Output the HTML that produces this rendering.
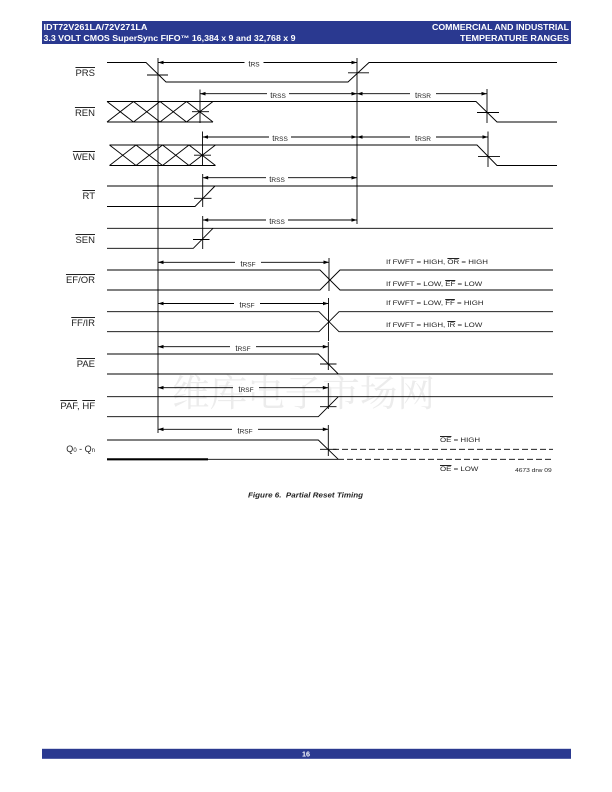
<!DOCTYPE html>
<html><head><meta charset="utf-8"><style>
html,body{margin:0;padding:0;background:#fff;}
body{width:612px;height:792px;position:relative;overflow:hidden;font-family:"Liberation Sans",Arial,sans-serif;}
.lb{position:absolute;right:517px;font-size:9.5px;line-height:1;white-space:nowrap;color:#222;}
.ov{text-decoration:overline;}
.rt{position:absolute;font-size:6.8px;line-height:1;white-space:nowrap;color:#222;transform:scaleX(1.16);transform-origin:0 0;}
svg{position:absolute;left:0;top:0;}
</style></head><body>
<svg width="612" height="792" viewBox="0 0 612 792" xmlns="http://www.w3.org/2000/svg" font-family="Liberation Sans, Arial, sans-serif">
<!-- header -->
<rect x="42" y="21" width="529" height="23" fill="#2a3990"/>
<g fill="#fff" font-weight="bold" font-size="8">
<text x="43.5" y="30.2" textLength="104" lengthAdjust="spacingAndGlyphs">IDT72V261LA/72V271LA</text>
<text x="43.5" y="41" textLength="252" lengthAdjust="spacingAndGlyphs">3.3 VOLT CMOS SuperSync FIFO™ 16,384 x 9 and 32,768 x 9</text>
<text x="569" y="30.2" text-anchor="end" textLength="137" lengthAdjust="spacingAndGlyphs">COMMERCIAL AND INDUSTRIAL</text>
<text x="569" y="41" text-anchor="end" textLength="109" lengthAdjust="spacingAndGlyphs">TEMPERATURE RANGES</text>
</g>
<!-- watermark -->
<text x="172" y="406" font-size="37" fill="#ececec" font-family="Noto Serif CJK SC, serif" textLength="263" lengthAdjust="spacingAndGlyphs">维库电子市场网</text>

<g stroke="#000" stroke-width="0.9" fill="none">
<line x1="158" y1="58" x2="158" y2="433"/>
<line x1="357" y1="58" x2="357" y2="224"/>

<polyline points="107,62.5 146,62.5 166,82 348,82 369,62.5 557,62.5"/>
<line x1="147" y1="75" x2="168" y2="75"/>
<line x1="348" y1="72.8" x2="369" y2="72.8"/>

<polyline points="107,101.5 476,101.5 497,122 557,122"/>
<line x1="107" y1="122" x2="213" y2="122"/>
<line x1="107" y1="101.5" x2="133.5" y2="122"/><line x1="107" y1="122" x2="133.5" y2="101.5"/>
<line x1="133.5" y1="101.5" x2="160" y2="122"/><line x1="133.5" y1="122" x2="160" y2="101.5"/>
<line x1="160" y1="101.5" x2="186.5" y2="122"/><line x1="160" y1="122" x2="186.5" y2="101.5"/>
<line x1="186.5" y1="101.5" x2="213" y2="122"/><line x1="186.5" y1="122" x2="213" y2="101.5"/>
<line x1="200" y1="89.5" x2="200" y2="123"/>
<line x1="192" y1="111.7" x2="209" y2="111.7"/>
<line x1="487" y1="89" x2="487" y2="123"/>
<line x1="477" y1="112.5" x2="499" y2="112.5"/>

<polyline points="109.5,145 477,145 497,165.5 557,165.5"/>
<line x1="109.5" y1="165.5" x2="215.5" y2="165.5"/>
<line x1="109.5" y1="145" x2="136" y2="165.5"/><line x1="109.5" y1="165.5" x2="136" y2="145"/>
<line x1="136" y1="145" x2="162.5" y2="165.5"/><line x1="136" y1="165.5" x2="162.5" y2="145"/>
<line x1="162.5" y1="145" x2="189" y2="165.5"/><line x1="162.5" y1="165.5" x2="189" y2="145"/>
<line x1="189" y1="145" x2="215.5" y2="165.5"/><line x1="189" y1="165.5" x2="215.5" y2="145"/>
<line x1="202.5" y1="131.5" x2="202.5" y2="166"/>
<line x1="194" y1="155.2" x2="211" y2="155.2"/>
<line x1="488" y1="131.5" x2="488" y2="167"/>
<line x1="478" y1="156.4" x2="500" y2="156.4"/>

<line x1="107" y1="186" x2="553" y2="186"/>
<polyline points="107,206.5 195,206.5 215,186"/>
<line x1="202.7" y1="174" x2="202.7" y2="207"/>
<line x1="194" y1="198.3" x2="211.5" y2="198.3"/>

<line x1="107" y1="228.3" x2="553" y2="228.3"/>
<polyline points="107,248.3 193.3,248.3 213,228.3"/>
<line x1="202.7" y1="216" x2="202.7" y2="249"/>
<line x1="193" y1="239.5" x2="209.5" y2="239.5"/>

<polyline points="107,270 320,270 340,290 553,290"/>
<polyline points="107,290 320,290 340,270 553,270"/>
<line x1="329" y1="258" x2="329" y2="291"/>

<polyline points="107,311.7 319,311.7 339,331.7 553,331.7"/>
<polyline points="107,331.7 319,331.7 339,311.7 553,311.7"/>
<line x1="328.5" y1="298" x2="328.5" y2="341"/>

<polyline points="107,354 318.3,354 338.3,374"/>
<line x1="107" y1="374" x2="553" y2="374"/>
<line x1="328.3" y1="342" x2="328.3" y2="370"/>
<line x1="320" y1="364" x2="336.5" y2="364"/>

<line x1="107" y1="396.7" x2="553" y2="396.7"/>
<polyline points="107,416.7 318.3,416.7 338.3,396.7"/>
<line x1="328.3" y1="383" x2="328.3" y2="409"/>
<line x1="320" y1="406.7" x2="336.5" y2="406.7"/>

<polyline points="107,440 318.3,440 338.3,459.3"/>
<line x1="208" y1="459.3" x2="338" y2="459.3"/>
<line x1="107" y1="459.3" x2="208" y2="459.3" stroke-width="2.2"/>
<line x1="338" y1="459.3" x2="553" y2="459.3" stroke-dasharray="6 3"/>
<line x1="333" y1="449.3" x2="553" y2="449.3" stroke-dasharray="6 3"/>
<line x1="328.3" y1="425" x2="328.3" y2="456"/>
<line x1="320" y1="449.3" x2="336.5" y2="449.3"/>

<line x1="158" y1="62.5" x2="357" y2="62.5"/>
<line x1="200" y1="93.7" x2="357" y2="93.7"/>
<line x1="357" y1="93.7" x2="487" y2="93.7"/>
<line x1="202.5" y1="137" x2="357" y2="137"/>
<line x1="357" y1="137" x2="488" y2="137"/>
<line x1="202.7" y1="177.7" x2="357" y2="177.7"/>
<line x1="202.7" y1="220" x2="357" y2="220"/>
<line x1="158" y1="262.3" x2="329" y2="262.3"/>
<line x1="158" y1="303.5" x2="328.5" y2="303.5"/>
<line x1="158" y1="346.7" x2="328.3" y2="346.7"/>
<line x1="158" y1="387.7" x2="328.3" y2="387.7"/>
<line x1="158" y1="429.3" x2="328.3" y2="429.3"/>
</g>

<g fill="#000">
<polygon points="158,62.5 163.5,60.7 163.5,64.3"/><polygon points="357,62.5 351.5,60.7 351.5,64.3"/>
<polygon points="200,93.7 205.5,91.9 205.5,95.5"/><polygon points="357,93.7 351.5,91.9 351.5,95.5"/>
<polygon points="357,93.7 362.5,91.9 362.5,95.5"/><polygon points="487,93.7 481.5,91.9 481.5,95.5"/>
<polygon points="202.5,137 208,135.2 208,138.8"/><polygon points="357,137 351.5,135.2 351.5,138.8"/>
<polygon points="357,137 362.5,135.2 362.5,138.8"/><polygon points="488,137 482.5,135.2 482.5,138.8"/>
<polygon points="202.7,177.7 208.2,175.9 208.2,179.5"/><polygon points="357,177.7 351.5,175.9 351.5,179.5"/>
<polygon points="202.7,220 208.2,218.2 208.2,221.8"/><polygon points="357,220 351.5,218.2 351.5,221.8"/>
<polygon points="158,262.3 163.5,260.5 163.5,264.1"/><polygon points="329,262.3 323.5,260.5 323.5,264.1"/>
<polygon points="158,303.5 163.5,301.7 163.5,305.3"/><polygon points="328.5,303.5 323,301.7 323,305.3"/>
<polygon points="158,346.7 163.5,344.9 163.5,348.5"/><polygon points="328.3,346.7 322.8,344.9 322.8,348.5"/>
<polygon points="158,387.7 163.5,385.9 163.5,389.5"/><polygon points="328.3,387.7 322.8,385.9 322.8,389.5"/>
<polygon points="158,429.3 163.5,427.5 163.5,431.1"/><polygon points="328.3,429.3 322.8,427.5 322.8,431.1"/>
</g>

<g fill="#fff">
<rect x="244.5" y="59" width="19" height="8"/>
<rect x="267" y="90.2" width="22" height="8"/>
<rect x="410" y="90.2" width="26" height="8"/>
<rect x="269" y="133.5" width="22" height="8"/>
<rect x="410" y="133.5" width="26" height="8"/>
<rect x="266" y="174.2" width="22" height="8"/>
<rect x="266" y="216.5" width="22" height="8"/>
<rect x="235" y="258.8" width="26" height="8"/>
<rect x="234" y="300" width="26" height="8"/>
<rect x="230" y="343.2" width="26" height="8"/>
<rect x="233" y="384.2" width="26" height="8"/>
<rect x="232" y="425.8" width="26" height="8"/>
</g>
<g fill="#222" text-anchor="middle">
<text x="254" y="66.6"><tspan font-size="8">t</tspan><tspan font-size="6.5">RS</tspan></text>
<text x="278" y="97.8"><tspan font-size="8">t</tspan><tspan font-size="6.5">RSS</tspan></text>
<text x="423" y="97.8"><tspan font-size="8">t</tspan><tspan font-size="6.5">RSR</tspan></text>
<text x="280" y="141.1"><tspan font-size="8">t</tspan><tspan font-size="6.5">RSS</tspan></text>
<text x="423" y="141.1"><tspan font-size="8">t</tspan><tspan font-size="6.5">RSR</tspan></text>
<text x="277" y="181.8"><tspan font-size="8">t</tspan><tspan font-size="6.5">RSS</tspan></text>
<text x="277" y="224.1"><tspan font-size="8">t</tspan><tspan font-size="6.5">RSS</tspan></text>
<text x="248" y="266.4"><tspan font-size="8">t</tspan><tspan font-size="6.5">RSF</tspan></text>
<text x="247" y="307.6"><tspan font-size="8">t</tspan><tspan font-size="6.5">RSF</tspan></text>
<text x="243" y="350.8"><tspan font-size="8">t</tspan><tspan font-size="6.5">RSF</tspan></text>
<text x="246" y="391.8"><tspan font-size="8">t</tspan><tspan font-size="6.5">RSF</tspan></text>
<text x="245" y="433.4"><tspan font-size="8">t</tspan><tspan font-size="6.5">RSF</tspan></text>
</g>

<text x="515" y="472.2" font-size="5.6" fill="#222" textLength="36.7" lengthAdjust="spacingAndGlyphs">4673 drw 09</text>

<text x="305.5" y="497.6" text-anchor="middle" font-size="7.6" font-weight="bold" font-style="italic" fill="#222" textLength="115" lengthAdjust="spacingAndGlyphs">Figure 6.&#160; Partial Reset Timing</text>

<rect x="42" y="748.8" width="529" height="10" fill="#2a3990"/>
<text x="306" y="756.6" text-anchor="middle" font-size="7.2" font-weight="bold" fill="#fff">16</text>
</svg>

<div class="rt" style="left:386px;top:260.2px">If FWFT = HIGH, <span class="ov">OR</span> = HIGH</div>
<div class="rt" style="left:386px;top:281.8px">If FWFT = LOW, <span class="ov">EF</span> = LOW</div>
<div class="rt" style="left:386px;top:301.2px">If FWFT = LOW, <span class="ov">FF</span> = HIGH</div>
<div class="rt" style="left:386px;top:322.8px">If FWFT = HIGH, <span class="ov">IR</span> = LOW</div>
<div class="rt" style="left:440px;top:438.2px"><span class="ov">OE</span> = HIGH</div>
<div class="rt" style="left:440px;top:467px"><span class="ov">OE</span> = LOW</div>

<div class="lb" style="top:68.7px"><span class="ov">PRS</span></div>
<div class="lb" style="top:108.7px"><span class="ov">REN</span></div>
<div class="lb" style="top:152.7px"><span class="ov">WEN</span></div>
<div class="lb" style="top:192px"><span class="ov">RT</span></div>
<div class="lb" style="top:236px"><span class="ov">SEN</span></div>
<div class="lb" style="top:276px"><span class="ov">EF/OR</span></div>
<div class="lb" style="top:319.4px"><span class="ov">FF/IR</span></div>
<div class="lb" style="top:360.4px"><span class="ov">PAE</span></div>
<div class="lb" style="top:402px"><span class="ov">PAF</span>, <span class="ov">HF</span></div>
<div class="lb" style="top:445.4px;font-size:9px">Q<span style="font-size:6px;">0</span> - Q<span style="font-size:6px;">n</span></div>
</body></html>
